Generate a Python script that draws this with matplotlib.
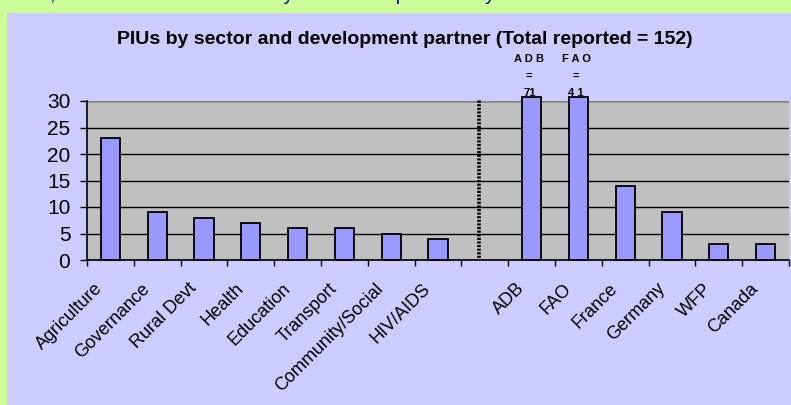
import numpy as np
import matplotlib
matplotlib.use('Agg')
import matplotlib.pyplot as plt
from matplotlib.patches import Rectangle
from matplotlib.transforms import ScaledTranslation

plt.rcParams['font.family'] = ['Liberation Sans', 'DejaVu Sans']

categories = ['Agriculture', 'Governance', 'Rural Devt', 'Health', 'Education',
              'Transport', 'Community/Social', 'HIV/AIDS', '',
              'ADB', 'FAO', 'France', 'Germany', 'WFP', 'Canada']
values = [23, 9, 8, 7, 6, 6, 5, 4, np.nan, 71, 41, 14, 9, 3, 3]
ymax = 30
overflow_labels = {'ADB': 'A D B\n=\n71', 'FAO': 'F A O\n=\n4 1'}
title = 'PIUs by sector and development partner (Total reported = 152)'

fig = plt.figure(figsize=(7.91, 4.05), dpi=100)
fig.patch.set_facecolor('#ccff99')
fig.patches.append(Rectangle((7/791, 0), 1, 1 - 13/405, transform=fig.transFigure,
                             facecolor='#ccccff', edgecolor='none', zorder=-10))

# cut-off line of body text above the chart
fig.text(12/791, 1.0, 'Also, most of these were directly made to supervise key roles in all the sectors and in the',
         color='#000099', fontsize=14, va='baseline', ha='left')

ax = fig.add_axes([87/791, 1 - 260/405, 702/791, 159/405])
ax.set_zorder(1)
ax.set_facecolor('#c0c0c0')

x = np.arange(len(categories))
vals = np.array(values, dtype=float)
shown = np.minimum(vals, ymax + 0.75)
bars = ax.bar(x, shown, width=0.41, color='#9999ff', edgecolor='black',
              linewidth=1.3, zorder=3, clip_on=False)

for i, c in enumerate(categories):
    if c in overflow_labels:
        ax.text(i - 0.05, ymax + 0.6, overflow_labels[c], ha='center', va='bottom',
                fontsize=8, fontweight='bold', linespacing=1.85)

# separator between sectors and partners
ax.plot([7.88, 7.88], [0.3, 30.3], color='black', linestyle=(0, (0.6, 0.4)),
        linewidth=2.6, zorder=4, clip_on=False)

ax.set_xlim(-0.5, len(categories) - 0.5)
ax.set_ylim(0, ymax)
ax.set_yticks(np.arange(0, 31, 5))
ax.yaxis.grid(True, color='black', linewidth=1)
ax.set_axisbelow(True)

ax.set_xticks(x)
ax.set_xticklabels(categories, rotation=45, ha='right', rotation_mode='anchor',
                   fontsize=13)
ax.set_xticks(np.arange(-0.5, len(categories), 1), minor=True)
ax.tick_params(axis='x', which='major', length=0, pad=8)
ax.tick_params(axis='x', which='minor', length=4, width=1, direction='out')
ax.tick_params(axis='y', labelsize=15, length=5, width=1, pad=7)

# nudge the slanted labels down-left like the original
shift = ScaledTranslation(-0.16, -0.09, fig.dpi_scale_trans)
for lab in ax.get_xticklabels():
    lab.set_transform(lab.get_transform() + shift)

for s in ['top', 'right']:
    ax.spines[s].set_visible(False)
ax.axhline(ymax, color='#808080', linewidth=1.5, zorder=2)
ax.spines['left'].set_linewidth(1.2)
ax.spines['bottom'].set_linewidth(1.2)

fig.text(405/791, 1 - 39/405, title, ha='center', va='center',
         fontsize=14, fontweight='bold')

fig.savefig('out.png', dpi=100, facecolor=fig.get_facecolor())
